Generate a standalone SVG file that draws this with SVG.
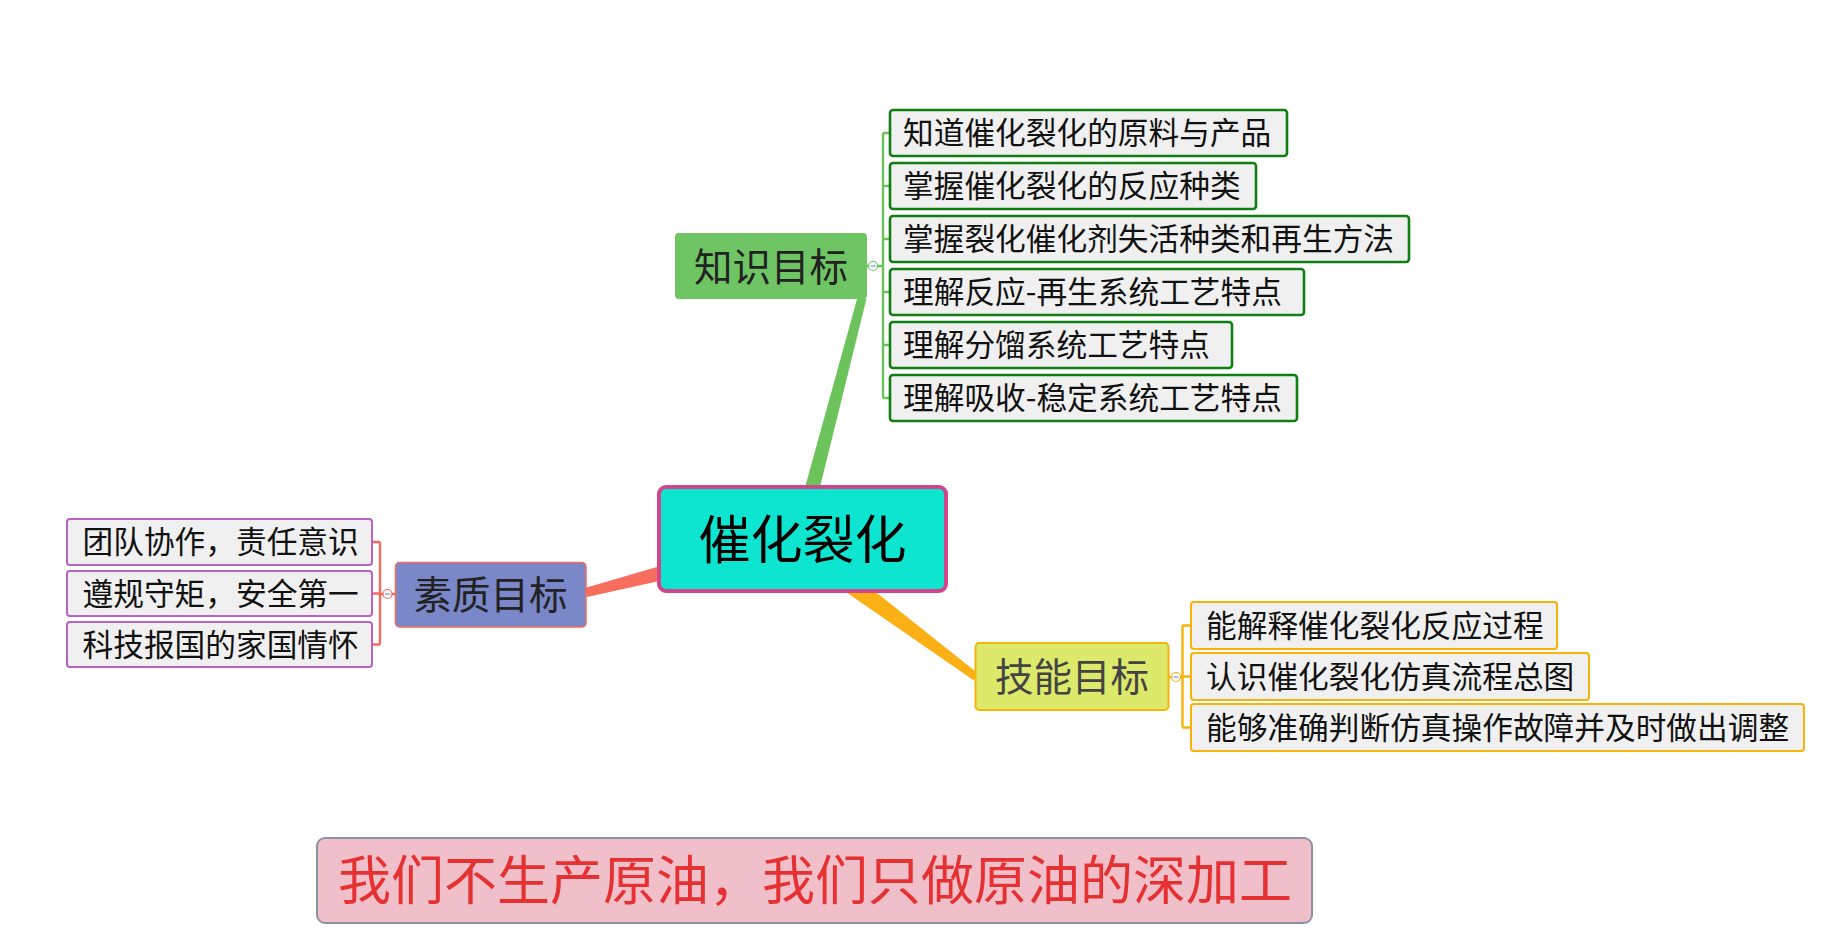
<svg xmlns="http://www.w3.org/2000/svg" width="1837" height="950" viewBox="0 0 1837 950">
<style>
text{font-family:"Noto Sans CJK SC","Liberation Sans",sans-serif;}
.main{font-size:38.5px;text-anchor:middle;dominant-baseline:central;fill:#222;}
.leaf{font-size:30.7px;dominant-baseline:central;fill:#111;}
.g{fill:#f0f0f0;stroke:#0f7f12;stroke-width:2.6;}
.p{fill:#f0f0f0;stroke:#b862c2;stroke-width:2;}
.o{fill:#f0f0f0;stroke:#f8b20a;stroke-width:2;}
.tog{fill:#fff;stroke-width:1.2;}
.minus{stroke:#7c8ed6;stroke-width:1.2;}
</style>
<rect width="1837" height="950" fill="#fff"/>
<g id="connectors">
  <polygon points="791.3,537 806.7,541 866.4,299.1 857.6,296.9" fill="#6cc35b"/>
  <polygon points="797.2,529.4 978.4,673.8 973.6,680.2 782.9,548.6" fill="#fbb016"/>
  <polygon points="799,525.4 584.9,588.1 587.1,596.9 805,548.6" fill="#f76d5e"/>
  <g fill="none" stroke="#6cc35b" stroke-width="2.4">
    <path d="M867,266H868.5M877.5,266H883M883,133V398M883,133H890M883,186H890M883,239H890M883,292H890M883,345H890M883,398H890"/>
  </g>
  <circle class="tog" cx="873" cy="266" r="4.5" stroke="#6cc35b"/>
  <line class="minus" x1="870.5" y1="266" x2="875.5" y2="266"/>
  <g fill="none" stroke="#f36b5c" stroke-width="2.4">
    <path d="M395,594H392M383,594H380M380,542V644.5M380,542H372M380,593.5H372M380,644.5H372"/>
  </g>
  <circle class="tog" cx="387.5" cy="594" r="4.5" stroke="#f36b5c"/>
  <line class="minus" x1="385" y1="594" x2="390" y2="594"/>
  <g fill="none" stroke="#f8b20a" stroke-width="2.4">
    <path d="M1169,677H1171.5M1180.5,677H1182.5M1182.5,625.5V727.5M1182.5,625.5H1191M1182.5,676.5H1191M1182.5,727.5H1191"/>
  </g>
  <circle class="tog" cx="1176" cy="677" r="4.5" stroke="#f8b20a"/>
  <line class="minus" x1="1173.5" y1="677" x2="1178.5" y2="677"/>
</g>
<g id="center">
  <rect x="659" y="487" width="287" height="104" rx="7" fill="#0de5d0" stroke="#d3448a" stroke-width="4"/>
  <text x="802.5" y="536" font-size="52" text-anchor="middle" dominant-baseline="central" fill="#000">催化裂化</text>
</g>
<g id="knowledge">
  <rect x="675" y="233" width="192" height="66" rx="4" fill="#6fc564"/>
  <text class="main" x="771" y="263.5">知识目标</text>
</g>
<g id="k1"><rect class="g" x="890" y="110" width="397" height="46" rx="3"/><text class="leaf" x="903" y="130.5">知道催化裂化的原料与产品</text></g>
<g id="k2"><rect class="g" x="890" y="163" width="366" height="46" rx="3"/><text class="leaf" x="903" y="183.5">掌握催化裂化的反应种类</text></g>
<g id="k3"><rect class="g" x="890" y="216" width="519" height="46" rx="3"/><text class="leaf" x="903" y="236.5">掌握裂化催化剂失活种类和再生方法</text></g>
<g id="k4"><rect class="g" x="890" y="269" width="414" height="46" rx="3"/><text class="leaf" x="903" y="289.5">理解反应-再生系统工艺特点</text></g>
<g id="k5"><rect class="g" x="890" y="322" width="342" height="46" rx="3"/><text class="leaf" x="903" y="342.5">理解分馏系统工艺特点</text></g>
<g id="k6"><rect class="g" x="890" y="375" width="407" height="46" rx="3"/><text class="leaf" x="903" y="395.5">理解吸收-稳定系统工艺特点</text></g>
<g id="quality">
  <rect x="395.5" y="562.5" width="190.5" height="64.5" rx="4" fill="#7a87c8" stroke="#f36b5c" stroke-width="1.5"/>
  <text class="main" x="490.5" y="592">素质目标</text>
</g>
<g id="q1"><rect class="p" x="67" y="519" width="305" height="46" rx="3"/><text class="leaf" x="82.5" y="539.5">团队协作，责任意识</text></g>
<g id="q2"><rect class="p" x="67" y="571" width="305" height="45" rx="3"/><text class="leaf" x="82.5" y="591">遵规守矩，安全第一</text></g>
<g id="q3"><rect class="p" x="67" y="622" width="305" height="45" rx="3"/><text class="leaf" x="82.5" y="642">科技报国的家国情怀</text></g>
<g id="skill">
  <rect x="975.5" y="643" width="193" height="67" rx="4" fill="#dde96a" stroke="#f8b20a" stroke-width="2"/>
  <text class="main" x="1072" y="674" style="fill:#444">技能目标</text>
</g>
<g id="s1"><rect class="o" x="1191" y="602" width="366" height="47" rx="3"/><text class="leaf" x="1206" y="623">能解释催化裂化反应过程</text></g>
<g id="s2"><rect class="o" x="1191" y="653" width="398" height="47" rx="3"/><text class="leaf" x="1206" y="674">认识催化裂化仿真流程总图</text></g>
<g id="s3"><rect class="o" x="1191" y="704" width="613" height="47" rx="3"/><text class="leaf" x="1206" y="725">能够准确判断仿真操作故障并及时做出调整</text></g>
<g id="slogan">
  <rect x="317" y="838" width="995" height="85" rx="8" fill="#f1bfc9" stroke="#8a93a6" stroke-width="2"/>
  <text x="815" y="877" font-size="53" text-anchor="middle" dominant-baseline="central" fill="#e53131">我们不生产原油，我们只做原油的深加工</text>
</g>
</svg>
